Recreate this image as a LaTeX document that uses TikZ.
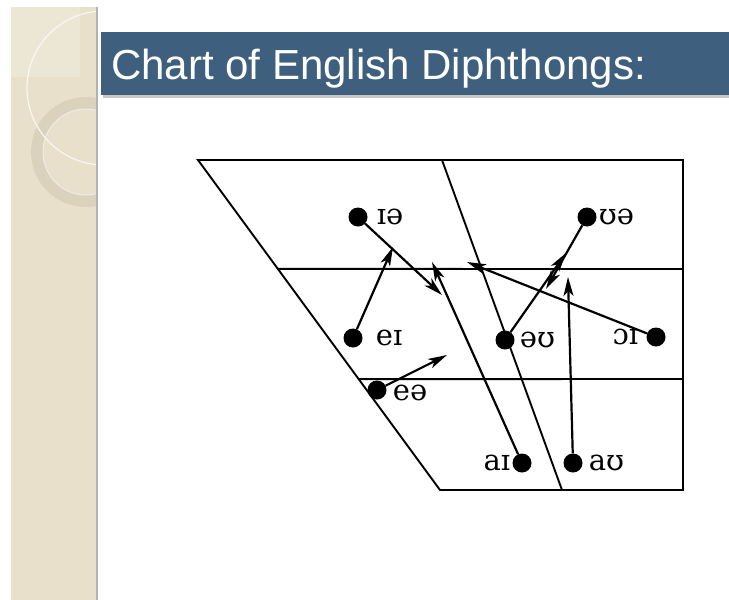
\documentclass[tikz,border=0pt]{standalone}
\usepackage{fontspec}
\setmainfont{DejaVu Serif}
\newfontfamily\titlefont{Liberation Sans}
\usetikzlibrary{arrows.meta, positioning, calc}
\definecolor{sidebeige}{HTML}{E8E0CA}
\definecolor{sidelight}{HTML}{ECE6D5}
\definecolor{ringtan}{HTML}{DAD2BD}
\definecolor{bandblue}{HTML}{3F5F7E}

\begin{document}
\begin{tikzpicture}[
    x=1pt, y=-1pt,
    dot/.style={circle, fill=black, minimum size=19pt, inner sep=0pt},
    ipa/.style={font=\fontsize{29}{32}\selectfont, inner sep=0pt},
    chartline/.style={line width=1.9pt},
    arrow/.style={-{Stealth[length=19pt, width=10pt, inset=5pt]},
                  line width=2.2pt}
]
\useasboundingbox (0,0) rectangle (729,600);
\fill[white] (0,0) rectangle (729,600);

\begin{scope}
  \clip (11,7) rectangle (97,600);
  \fill[sidebeige] (11,7) rectangle (97,600);
  \fill[sidelight] (11,7) rectangle (80,77);
  \draw[ringtan, line width=12pt] (86,152) circle[radius=49pt];
  \draw[white!60!ringtan, line width=1pt] (86,152) circle[radius=43pt];
  \draw[white!75!sidebeige, line width=1.2pt] (104,88) circle[radius=77pt];
\end{scope}
\draw[black!30, line width=1.5pt] (97,7) -- (97,600);

\fill[black!22] (103,35) rectangle (729,98);
\fill[bandblue] (101,32) rectangle (729,95);
\node[anchor=base west, text=white, inner sep=0pt,
      font=\titlefont\fontsize{42}{48}\selectfont] (title) at (111,79)
    {Chart of English Diphthongs:};

\coordinate (tl) at (198,160);
\coordinate (tr) at (683,160);
\coordinate (br) at (683,490);
\coordinate (bl) at (440,490);
\draw[chartline] (tl) -- (tr) -- (br) -- (bl) -- cycle;
\draw[chartline] ($(tl)!0.33!(bl)$) -- (683,269);
\draw[chartline] ($(tl)!0.664!(bl)$) -- (683,379);
\draw[chartline] (442,160) -- (562,490);

\node[dot] (ia) at (358,217) {};
\node[dot] (ua) at (587,217) {};
\node[dot] (ei) at (353,338) {};
\node[dot] (ou) at (505,340) {};
\node[dot] (oi) at (656,337) {};
\node[dot] (ea) at (377,390) {};
\node[dot] (ai) at (522,463) {};
\node[dot] (au) at (573,463) {};

\node[ipa, right=9pt of ia] (iaL) {ɪə};
\node[ipa, right=2pt of ua] (uaL) {ʊə};
\node[ipa, right=13pt of ei] (eiL) {eɪ};
\node[ipa, right=5pt of ou] (ouL) {əʊ};
\node[ipa, left=8pt of oi] (oiL) {ɔɪ};
\node[ipa, right=6pt of ea, yshift=-3pt] (eaL) {eə};
\node[ipa, left=2pt of ai] (aiL) {aɪ};
\node[ipa, right=6pt of au] (auL) {aʊ};

\coordinate (iaEnd) at (442,295);
\coordinate (eiEnd) at (393,247);
\coordinate (aiEnd) at (432,262);
\coordinate (ouEnd) at (566,253);
\coordinate (uaEnd) at (546,289);
\coordinate (oiEnd) at (467,262);
\coordinate (eaEnd) at (447,355);
\coordinate (auEnd) at (568,277);

\draw[arrow] (ia) -- (iaEnd);
\draw[arrow] (ei) -- (eiEnd);
\draw[arrow] (ai) -- (aiEnd);
\draw[arrow] (ou) -- (ouEnd);
\draw[arrow] (ua) -- (uaEnd);
\draw[arrow] (oi) -- (oiEnd);
\draw[arrow] (ea) -- (eaEnd);
\draw[arrow] (au) -- (auEnd);

\end{tikzpicture}
\end{document}
